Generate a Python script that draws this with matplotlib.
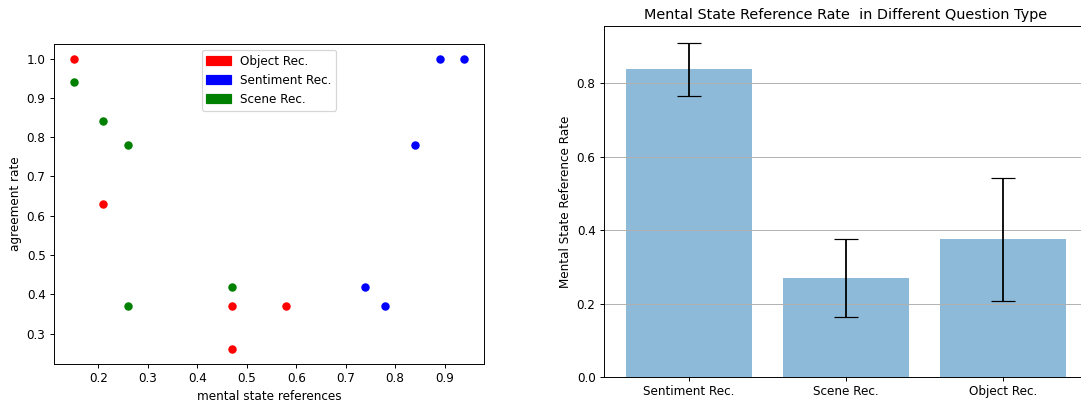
import matplotlib.pyplot as plt
import matplotlib.patches as mpatches

# scatter: mental state references vs agreement rate
object_x = [0.15, 0.21, 0.47, 0.47, 0.58]
object_y = [1.0, 0.63, 0.37, 0.26, 0.37]
sentiment_x = [0.89, 0.94, 0.84, 0.74, 0.78]
sentiment_y = [1.0, 1.0, 0.78, 0.42, 0.37]
scene_x = [0.15, 0.21, 0.26, 0.26, 0.47]
scene_y = [0.94, 0.84, 0.78, 0.37, 0.42]

# bar chart
types = ['Sentiment Rec.', 'Scene Rec.', 'Object Rec.']
rates = [0.8375, 0.2695, 0.3755]
errors = [0.0725, 0.1075, 0.1675]

DPI = 86.5
fig = plt.figure(figsize=(1081 / DPI, 402 / DPI), dpi=DPI)

ax1 = fig.add_axes([54 / 1081, 38 / 402, 430 / 1081, 320 / 402])
ax1.scatter(object_x, object_y, color='red')
ax1.scatter(sentiment_x, sentiment_y, color='blue')
ax1.scatter(scene_x, scene_y, color='green')
ax1.set_xlabel('mental state references')
ax1.set_ylabel('agreement rate')
handles = [mpatches.Patch(color='red', label='Object Rec.'),
           mpatches.Patch(color='blue', label='Sentiment Rec.'),
           mpatches.Patch(color='green', label='Scene Rec.')]
ax1.legend(handles=handles, loc='upper center')

ax2 = fig.add_axes([604 / 1081, 25 / 402, 484 / 1081, 351 / 402])
ax2.bar(types, rates, yerr=errors, alpha=0.5, ecolor='black', capsize=10)
ax2.yaxis.grid(True)
ax2.set_ylabel('Mental State Reference Rate')
ax2.set_title('Mental State Reference Rate  in Different Question Type')

plt.savefig('out.png', dpi=DPI)
